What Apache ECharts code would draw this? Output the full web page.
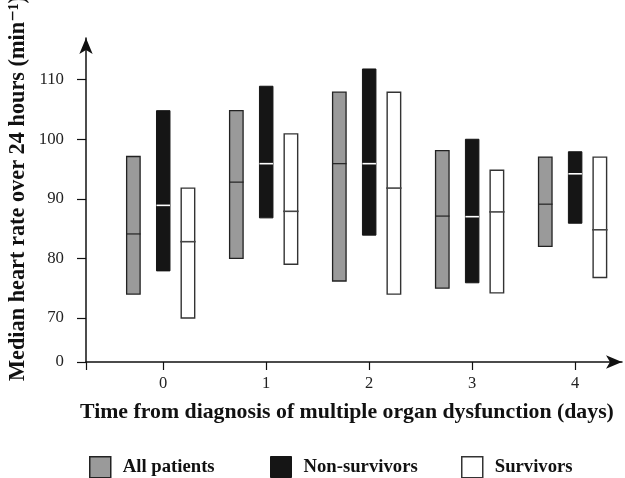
<!DOCTYPE html>
<html>
<head>
<meta charset="utf-8">
<script src="https://cdn.jsdelivr.net/npm/echarts@6/dist/echarts.min.js"></script>
<style>
html,body{margin:0;padding:0;background:#fff;}
#main{width:625px;height:478px;}
</style>
</head>
<body>
<div id="main"></div>
<script>
// ---- data ----
var days = [0, 1, 2, 3, 4];
var dayLabels = ['0', '1', '2', '3', '4'];
var yTickValues = [70, 80, 90, 100, 110];
var seriesNames = ['All patients', 'Non-survivors', 'Survivors'];

var allLow  = [74.0, 80.0, 76.2, 75.0, 82.0];
var allHigh = [97.1, 104.8, 107.9, 98.1, 97.0];
var allMed  = [84.1, 92.8, 95.9, 87.1, 89.1];

var nonLow  = [77.9, 86.8, 83.9, 75.9, 85.9];
var nonHigh = [104.8, 108.9, 111.8, 100.0, 97.9];
var nonMed  = [88.9, 95.9, 95.9, 87.0, 94.2];

var surLow  = [70.0, 79.0, 74.0, 74.2, 76.8];
var surHigh = [91.8, 100.9, 107.9, 94.8, 97.0];
var surMed  = [82.8, 87.9, 91.8, 87.8, 84.8];

// axis break: the "0" label sits at this position on the scale
var BREAK_VAL = 62.6;

var FONT = '"Liberation Serif", "DejaVu Serif", serif';

function build(low, high, med) {
  return days.map(function (d, i) { return [d, low[i], high[i], med[i]]; });
}

function makeRender(offset, fill, stroke, strokeW, medColor, medW, medExt) {
  return function (params, api) {
    var x = api.value(0) + offset;
    var top = api.coord([x, api.value(2)]);
    var bot = api.coord([x, api.value(1)]);
    var mid = api.coord([x, api.value(3)]);
    var w = api.size([0.131, 0])[0];
    return {
      type: 'group',
      children: [
        {
          type: 'rect',
          shape: { x: top[0] - w / 2, y: top[1], width: w, height: bot[1] - top[1] },
          style: { fill: fill, stroke: stroke, lineWidth: strokeW }
        },
        {
          type: 'line',
          shape: { x1: mid[0] - w / 2 - medExt, y1: mid[1], x2: mid[0] + w / 2 + medExt, y2: mid[1] },
          style: { stroke: medColor, lineWidth: medW }
        }
      ]
    };
  };
}

var chart = echarts.init(document.getElementById('main'), null, { renderer: 'canvas' });

var legendBase = {
  orient: 'horizontal',
  top: 456,
  icon: 'rect',
  itemWidth: 21,
  itemHeight: 21,
  itemGap: 0,
  padding: 0,
  selectedMode: false,
  textStyle: { fontFamily: FONT, fontWeight: 'bold', fontSize: 18.7, color: '#111', padding: [0, 0, 0, 7] }
};

var option = {
  backgroundColor: '#fff',
  animation: false,
  grid: { left: 86, right: 3, top: 38, bottom: 116, containLabel: false },
  xAxis: {
    type: 'value',
    min: -0.75,
    max: 4.455,
    axisLine: { show: true, onZero: false, lineStyle: { color: '#111', width: 1.5 }, symbol: ['none', 'arrow'], symbolSize: [10, 16] },
    axisTick: { show: true, inside: false, length: 8, lineStyle: { color: '#111', width: 1.2 }, customValues: [-0.75].concat(days) },
    axisLabel: {
      show: true, margin: 13, customValues: days,
      formatter: function (v) { var i = days.indexOf(v); return i >= 0 ? dayLabels[i] : ''; },
      fontFamily: FONT, fontSize: 16.5, color: '#222'
    },
    splitLine: { show: false }
  },
  yAxis: {
    type: 'value',
    min: BREAK_VAL,
    max: 117.0,
    axisLine: { show: true, onZero: false, lineStyle: { color: '#111', width: 1.5 }, symbol: ['none', 'arrow'], symbolSize: [10, 16] },
    axisTick: { show: true, inside: false, length: 9, lineStyle: { color: '#111', width: 1.2 }, customValues: [BREAK_VAL].concat(yTickValues) },
    axisLabel: {
      show: true, margin: 22, customValues: [BREAK_VAL].concat(yTickValues),
      formatter: function (v) { return v < 65 ? '0' : String(Math.round(v)); },
      fontFamily: FONT, fontSize: 16.8, color: '#222'
    },
    splitLine: { show: false }
  },
  legend: [
    Object.assign({}, legendBase, { left: 89, data: [{ name: seriesNames[0], itemStyle: { color: '#9a9a9a', borderColor: '#222', borderWidth: 1.5 } }] }),
    Object.assign({}, legendBase, { left: 270, data: [{ name: seriesNames[1], itemStyle: { color: '#151515', borderColor: '#151515', borderWidth: 1 } }] }),
    Object.assign({}, legendBase, { left: 461, data: [{ name: seriesNames[2], itemStyle: { color: '#ffffff', borderColor: '#333', borderWidth: 1.5 } }] })
  ],
  series: [
    {
      name: seriesNames[0], type: 'custom', data: build(allLow, allHigh, allMed),
      itemStyle: { color: '#9a9a9a' },
      encode: { x: 0, y: [1, 2, 3] },
      renderItem: makeRender(-0.29, '#9a9a9a', '#222', 1.3, '#222', 1.2, 0.5)
    },
    {
      name: seriesNames[1], type: 'custom', data: build(nonLow, nonHigh, nonMed),
      itemStyle: { color: '#151515' },
      encode: { x: 0, y: [1, 2, 3] },
      renderItem: makeRender(0, '#151515', '#151515', 1, '#ffffff', 1.6, 0)
    },
    {
      name: seriesNames[2], type: 'custom', data: build(surLow, surHigh, surMed),
      itemStyle: { color: '#ffffff' },
      encode: { x: 0, y: [1, 2, 3] },
      renderItem: makeRender(0.24, '#ffffff', '#333', 1.4, '#444', 1.6, 1)
    }
  ],
  graphic: [
    {
      type: 'text', left: 80, top: 401,
      style: { text: 'Time from diagnosis of multiple organ dysfunction (days)', fontFamily: FONT, fontWeight: 'bold', fontSize: 21.8, fill: '#111' }
    },
    {
      type: 'text', x: 7, y: 381, rotation: Math.PI / 2,
      style: { text: 'Median heart rate over 24 hours (min\u207B\u00B9)', fontFamily: FONT, fontWeight: 'bold', fontSize: 22.3, fill: '#111', align: 'left', verticalAlign: 'top' }
    }
  ]
};

chart.setOption(option);
</script>
</body>
</html>
